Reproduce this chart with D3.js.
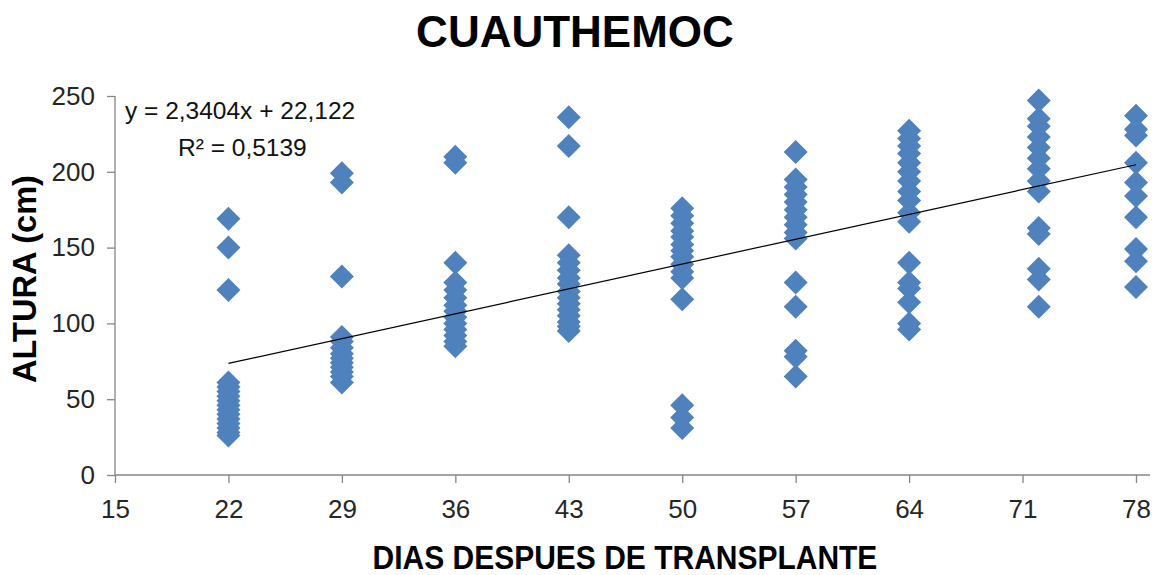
<!DOCTYPE html>
<html>
<head>
<meta charset="utf-8">
<script src="https://cdn.jsdelivr.net/npm/d3@7"></script>
<style>
  html, body { margin: 0; padding: 0; background: #fff; }
  svg { display: block; }
</style>
</head>
<body>
<svg id="chart" width="1161" height="575"></svg>
<script>
// ---- Data ----
const title = "CUAUTHEMOC";
const xLabel = "DIAS DESPUES DE TRANSPLANTE";
const yLabel = "ALTURA (cm)";
const xTicks = [15, 22, 29, 36, 43, 50, 57, 64, 71, 78];
const yTicks = [0, 50, 100, 150, 200, 250];
const days = [22, 29, 36, 43, 50, 57, 64, 72, 78];
const heights22 = [169, 150, 122, 61, 58, 55, 52, 49, 46, 43, 40, 37, 34, 31, 28, 26];
const heights29 = [199, 193, 131, 91, 88, 84, 80, 77, 74, 71, 68, 65, 61];
const heights36 = [210, 206, 140, 127, 122, 117, 112, 108, 104, 100, 96, 92, 88, 85];
const heights43 = [236, 217, 170, 145, 140, 135, 130, 126, 121, 117, 113, 109, 105, 101, 98, 95];
const heights50 = [176, 171, 166, 161, 157, 152, 148, 144, 139, 134, 130, 116, 46, 38, 31];
const heights57 = [213, 195, 190, 185, 180, 175, 170, 165, 160, 156, 127, 111, 82, 78, 65];
const heights64 = [227, 222, 217, 212, 206, 200, 194, 187, 181, 173, 167, 140, 127, 123, 114, 100, 96];
const heights72 = [247, 235, 230, 223, 216, 209, 202, 194, 187, 163, 159, 136, 129, 111];
const heights78 = [237, 228, 224, 206, 193, 184, 170, 149, 141, 124];
const heightsByDay = [heights22, heights29, heights36, heights43, heights50, heights57, heights64, heights72, heights78];
const trendSlope = 2.3404;
const trendIntercept = 22.122;
const trendRange = [22, 78];
const eqText = "y = 2,3404x + 22,122";
const r2Value = "0,5139";

// ---- Build points ----
const points = [];
days.forEach((d, i) => heightsByDay[i].forEach(h => points.push({x: d, y: h})));

// ---- Layout ----
const svg = d3.select("#chart");
const x = d3.scaleLinear().domain([15, 78]).range([115, 1136]);
const y = d3.scaleLinear().domain([0, 250]).range([475, 96]);
const axisColor = "#868686";
const markColor = "#4F81BD";
const tickFont = "'Liberation Sans', Arial, sans-serif";

// x axis
const xAxis = svg.append("g").attr("transform", `translate(0,${y(0)})`)
  .call(d3.axisBottom(x).tickValues(xTicks).tickSize(8).tickPadding(17).tickFormat(d3.format("d")));
xAxis.select(".domain").remove();
xAxis.append("line").attr("x1", x(15)).attr("x2", 1150).attr("y1", 0).attr("y2", 0)
  .attr("stroke", axisColor).attr("stroke-width", 1.3);
xAxis.selectAll(".tick line").attr("stroke", axisColor).attr("stroke-width", 1.3);
xAxis.selectAll(".tick text").attr("fill", "#262626").style("font-family", tickFont).style("font-size", "26px");

// y axis
const yAxis = svg.append("g").attr("transform", `translate(${x(15)},0)`)
  .call(d3.axisLeft(y).tickValues(yTicks).tickSize(8).tickPadding(12).tickFormat(d3.format("d")));
yAxis.select(".domain").attr("stroke", axisColor).attr("stroke-width", 1.3)
  .attr("d", `M0,${y(250)}V${y(0)}`);
yAxis.selectAll(".tick line").attr("stroke", axisColor).attr("stroke-width", 1.3);
yAxis.selectAll(".tick text").attr("fill", "#262626").style("font-family", tickFont).style("font-size", "26px");

// points (diamonds)
const diamond = d3.symbol().type(d3.symbolSquare).size(288);
svg.append("g").selectAll("path").data(points).join("path")
  .attr("d", diamond)
  .attr("transform", d => `translate(${x(d.x)},${y(d.y)}) rotate(45)`)
  .attr("fill", markColor);

// trend line
svg.append("line")
  .attr("x1", x(trendRange[0])).attr("y1", y(trendSlope * trendRange[0] + trendIntercept))
  .attr("x2", x(trendRange[1])).attr("y2", y(trendSlope * trendRange[1] + trendIntercept))
  .attr("stroke", "#000").attr("stroke-width", 1.2);

// equation
svg.append("text").attr("x", 125).attr("y", 119)
  .style("font-family", tickFont).style("font-size", "24.5px").attr("fill", "#111")
  .text(eqText);
svg.append("text").attr("x", 178).attr("y", 156)
  .style("font-family", tickFont).style("font-size", "24.5px").attr("fill", "#111")
  .text("R² = " + r2Value);

// title
svg.append("text").attr("x", 575).attr("y", 47).attr("text-anchor", "middle")
  .style("font-family", "'Liberation Sans', Arial, sans-serif").style("font-weight", "bold")
  .style("font-size", "44px").attr("fill", "#000").text(title);

// x axis title
svg.append("text").attr("transform", "translate(625,569) scale(1,1.1)").attr("text-anchor", "middle")
  .style("font-family", "'Liberation Sans', Arial, sans-serif").style("font-weight", "bold")
  .style("font-size", "30px").attr("fill", "#000").text(xLabel);

// y axis title
svg.append("text").attr("transform", `translate(36,279) rotate(-90) scale(1.05,1.05)`)
  .attr("text-anchor", "middle")
  .style("font-family", "'Liberation Sans', Arial, sans-serif").style("font-weight", "bold")
  .style("font-size", "31px").attr("fill", "#000").text(yLabel);
</script>
</body>
</html>
